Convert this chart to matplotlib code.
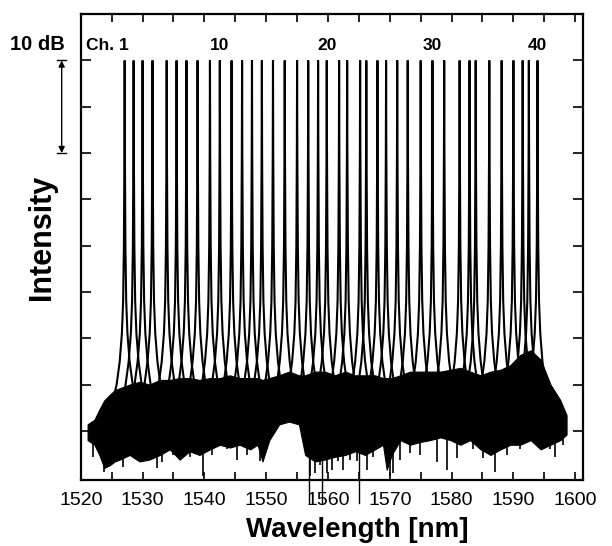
import numpy as np
import matplotlib.pyplot as plt
from matplotlib.ticker import MultipleLocator, FuncFormatter

plt.rcParams['font.family'] = ['Liberation Sans', 'DejaVu Sans']

# channel centre wavelengths (nm)
channels = [1527.1, 1528.55, 1530.0, 1531.6, 1533.9, 1535.5, 1537.1, 1538.9, 1540.9, 1542.5,
            1544.4, 1546.1, 1547.7, 1549.3, 1551.1, 1553.0, 1555.0, 1556.8, 1558.4, 1559.8,
            1561.8, 1563.1, 1565.2, 1566.2, 1568.0, 1569.4, 1571.2, 1572.9, 1575.0, 1576.9,
            1578.8, 1581.3, 1582.9, 1583.9, 1586.1, 1588.1, 1590.0, 1591.5, 1592.5, 1593.9]

# peak profile: offset from centre (nm) -> level (dB)
prof_off = [0.0, 0.04, 0.12, 0.25, 0.45, 0.8, 1.3, 2.0]
prof_db = [0.0, -10.0, -20.0, -26.0, -29.5, -32.5, -35.0, -37.0]

# noise floor band: wavelength, upper and lower edge (dB)
floor_wl = [1521.1, 1522.2, 1523.0, 1523.8, 1524.7, 1525.5, 1526.3, 1527.9, 1529.5, 1531.1,
            1532.8, 1534.4, 1536.0, 1537.6, 1539.2, 1540.9, 1542.5, 1544.1, 1545.7, 1547.4,
            1548.6, 1549.4, 1550.5, 1552.1, 1553.7, 1555.3, 1556.3, 1557.9, 1559.5, 1561.1,
            1562.8, 1564.4, 1566.0, 1567.6, 1568.9, 1569.5, 1570.3, 1571.7, 1573.3, 1574.9,
            1576.5, 1578.2, 1579.8, 1581.4, 1583.0, 1584.7, 1586.3, 1587.9, 1589.5, 1591.1,
            1592.8, 1594.4, 1596.0, 1597.6, 1598.6]
floor_hi = [-39.3, -38.8, -37.7, -36.7, -36.1, -35.6, -35.4, -35.0, -34.7, -35.0,
            -34.5, -34.5, -34.3, -34.3, -34.5, -34.3, -34.3, -34.0, -34.3, -34.3,
            -34.3, -34.5, -34.3, -34.0, -33.6, -34.0, -34.0, -33.6, -33.6, -34.0,
            -33.6, -34.0, -34.0, -34.0, -34.3, -34.3, -34.3, -34.0, -33.6, -33.6,
            -33.6, -33.6, -33.4, -33.2, -33.6, -34.0, -33.6, -33.4, -32.9, -31.8,
            -31.3, -32.3, -35.0, -36.7, -38.3]
floor_lo = [-41.0, -41.5, -42.6, -44.0, -43.7, -43.3, -43.1, -42.6, -43.3, -43.1,
            -42.6, -42.0, -43.1, -42.2, -42.6, -42.0, -41.5, -41.8, -41.5, -42.0,
            -41.5, -43.3, -41.0, -39.3, -39.0, -39.3, -42.6, -43.3, -43.1, -42.8,
            -42.6, -42.2, -42.6, -42.0, -41.5, -44.2, -42.6, -41.0, -41.5, -41.2,
            -41.0, -40.7, -41.0, -41.5, -41.0, -42.0, -42.6, -42.0, -41.5, -41.5,
            -41.0, -42.0, -41.5, -41.0, -40.4]

# deep dips below the floor: wavelength, bottom level (dB)
dip_wl = [1521.9, 1523.8, 1525.0, 1526.8, 1528.4, 1530.7, 1532.3, 1533.2, 1534.9, 1536.0,
          1537.6, 1539.7, 1541.3, 1543.6, 1545.2, 1546.9, 1549.0, 1557.1, 1557.9, 1558.7,
          1559.8, 1560.6, 1561.6, 1562.4, 1563.6, 1564.7, 1566.3, 1567.3, 1570.1, 1570.5,
          1571.7, 1573.3, 1574.9, 1577.7, 1579.3, 1580.9, 1583.5, 1585.1, 1587.1, 1589.0,
          1591.1, 1594.7, 1596.0, 1596.8, 1598.1]
dip_db = [-42.8, -44.4, -43.3, -43.9, -42.4, -42.8, -44.0, -43.4, -42.6, -42.0,
          -42.8, -44.9, -42.6, -42.0, -43.1, -42.6, -43.3, -44.9, -44.5, -43.7,
          -44.5, -44.2, -43.3, -44.2, -43.1, -43.3, -44.2, -42.8, -44.9, -44.5,
          -43.1, -42.4, -42.6, -43.4, -44.2, -42.9, -42.0, -42.9, -44.4, -42.6,
          -42.0, -41.7, -42.0, -42.8, -41.5]

# scratches that run past the bottom frame
long_wl = [1557.0, 1559.1, 1565.0]
long_db = [-47.8, -47.8, -47.8]

ch_labels = {10: '10', 20: '20', 30: '30', 40: '40'}

fig = plt.figure(figsize=(6.12, 5.46), dpi=100)
ax = fig.add_axes([0.132, 0.121, 0.821, 0.853])

ax.fill_between(floor_wl, floor_lo, floor_hi, color='black', lw=0.8, edgecolor='black')

off = np.array(prof_off)
lev = np.array(prof_db)
for c in channels:
    xs = np.concatenate([c - off[::-1], c + off[1:]])
    ys = np.concatenate([lev[::-1], lev[1:]])
    ax.plot(xs, ys, color='black', lw=1.5, solid_joinstyle='miter')

ax.vlines(dip_wl, -40.0, dip_db, color='black', lw=1.2)
for w, d in zip(long_wl, long_db):
    ax.plot([w, w], [-41.0, d], color='black', lw=1.0, clip_on=False)

ax.set_xlim(1520, 1601.3)
ax.set_ylim(-45.3, 5.0)

ax.xaxis.set_major_locator(MultipleLocator(5))
ax.xaxis.set_major_formatter(FuncFormatter(lambda v, p: f'{v:.0f}' if round(v) % 10 == 0 else ''))
ax.set_yticks(np.arange(-40, 1, 5))
ax.set_yticklabels([])
ax.tick_params(axis='x', direction='in', length=6, width=1.2, top=True, labelsize=14, pad=9)
ax.tick_params(axis='y', direction='in', length=7, width=1.2, right=True)
for s in ax.spines.values():
    s.set_linewidth(1.6)

# channel labels
ax.text(1527.7, 1.6, 'Ch. 1', ha='right', va='center', fontsize=12.5, fontweight='bold')
for n, t in ch_labels.items():
    ax.text(channels[n - 1], 1.6, t, ha='center', va='center', fontsize=12.5, fontweight='bold')

fig.text(0.061, 0.918, '10 dB', ha='center', va='center', fontsize=14.5, fontweight='bold')

# 10 dB scale arrow
tr = ax.get_yaxis_transform()
ax.annotate('', xy=(-0.038, 0), xytext=(-0.038, -10), xycoords=tr, textcoords=tr,
            arrowprops=dict(arrowstyle='<|-|>', color='black', lw=1.0, mutation_scale=9,
                            shrinkA=0, shrinkB=0), annotation_clip=False)
for yv in (0, -10):
    ax.plot([-0.047, -0.029], [yv, yv], color='black', lw=1.0, transform=tr, clip_on=False)

ax.text(-0.078, 0.52, 'Intensity', transform=ax.transAxes, rotation=90,
        ha='center', va='center', fontsize=22, fontweight='bold')
ax.text(0.55, -0.107, 'Wavelength [nm]', transform=ax.transAxes,
        ha='center', va='center', fontsize=20, fontweight='bold')

fig.savefig('out.png', dpi=100, facecolor='white')
